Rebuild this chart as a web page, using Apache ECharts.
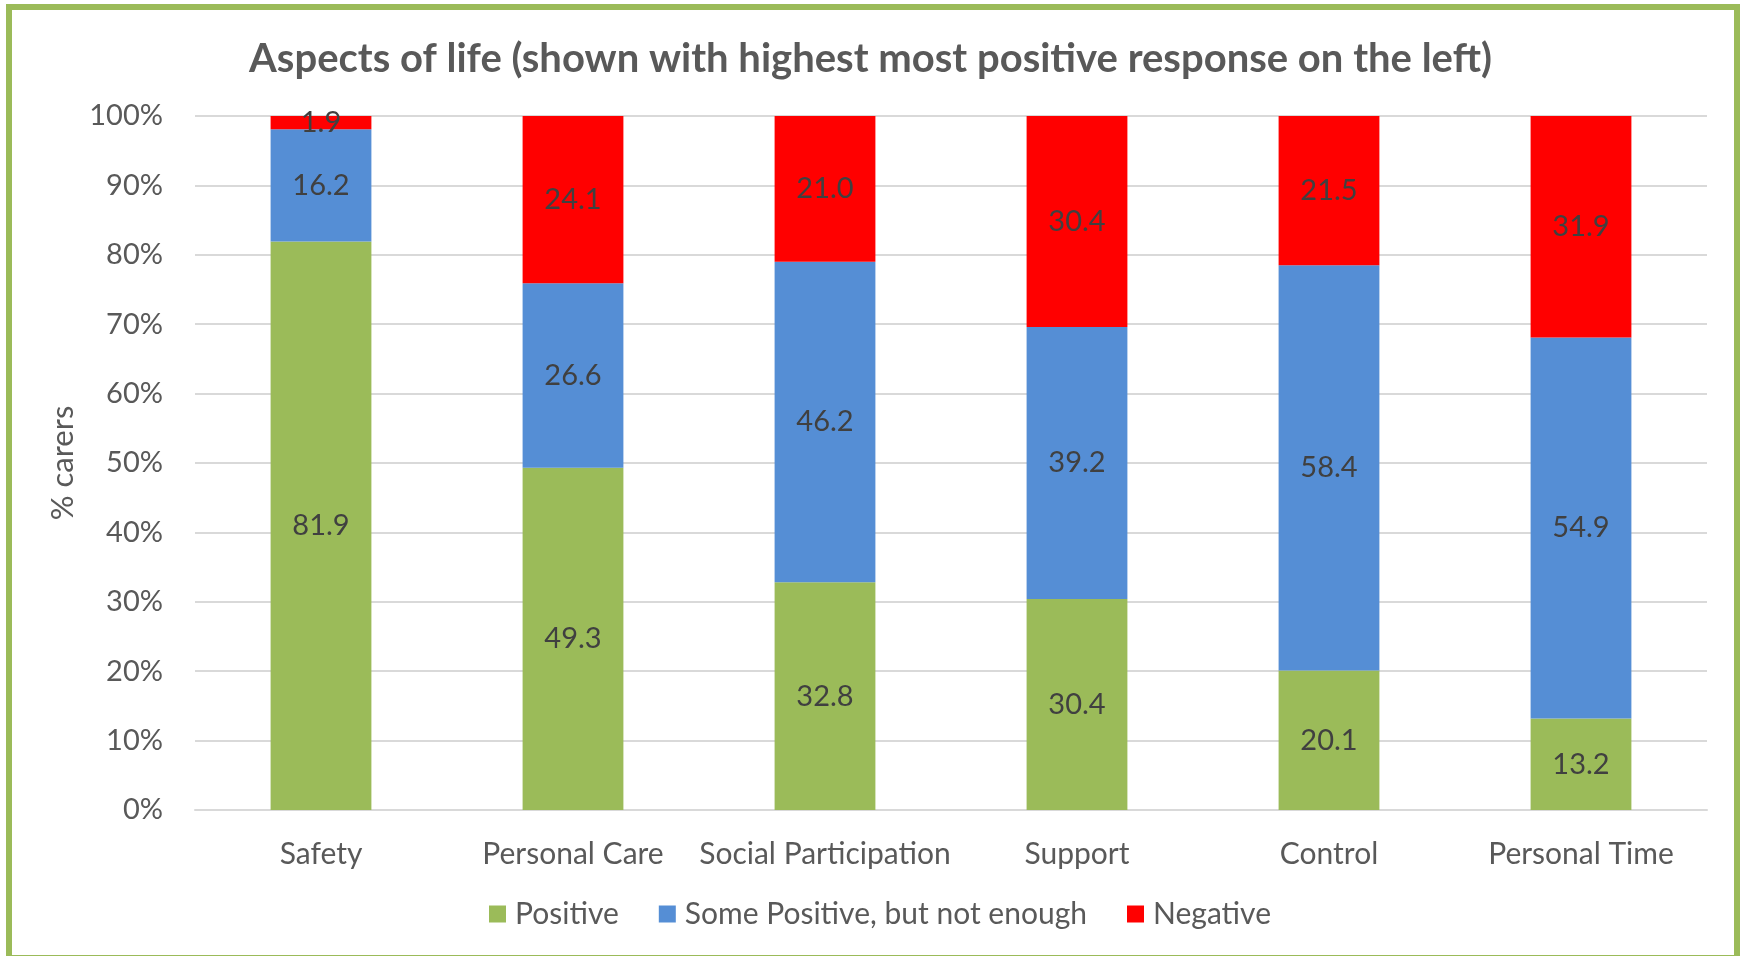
<!DOCTYPE html>
<html>
<head>
<meta charset="utf-8">
<title>Aspects of life</title>
<script src="https://cdn.jsdelivr.net/npm/echarts@6/dist/echarts.min.js"></script>
<style>
  html, body { margin: 0; padding: 0; background: #ffffff; }
  #chart { width: 1741px; height: 956px; }
</style>
</head>
<body>
<div id="chart"></div>
<script>
// Categories ordered by share of most positive response
const categories = ['Safety', 'Personal Care', 'Social Participation', 'Support', 'Control', 'Personal Time'];
const positive = [81.9, 49.3, 32.8, 30.4, 20.1, 13.2];
const somePositive = [16.2, 26.6, 46.2, 39.2, 58.4, 54.9];
const negative = [1.9, 24.1, 21.0, 30.4, 21.5, 31.9];
const seriesNames = ['Positive', 'Some Positive, but not enough', 'Negative'];
const yTicks = [0, 10, 20, 30, 40, 50, 60, 70, 80, 90, 100];

const FONT = 'Lato';
const TEXT = '#595959';
const SIZE = 29;

const chart = echarts.init(document.getElementById('chart'), null, { renderer: 'canvas' });

function barSeries(name, data, color) {
  return {
    name: name,
    type: 'bar',
    stack: 'total',
    barWidth: '40%',
    data: data,
    itemStyle: { color: color },
    label: {
      show: true,
      position: 'inside',
      formatter: p => p.value.toFixed(1),
      color: '#404040',
      fontFamily: FONT,
      fontSize: SIZE
    }
  };
}

chart.setOption({
  animation: false,
  backgroundColor: '#ffffff',
  title: {
    text: 'Aspects of life (shown with highest most positive response on the left)',
    left: 'center',
    top: 34,
    textStyle: { fontFamily: FONT, fontWeight: 'bold', fontSize: 40, color: TEXT }
  },
  legend: {
    bottom: 27,
    left: 489,
    padding: 0,
    icon: 'rect',
    itemWidth: 17,
    itemHeight: 17,
    itemGap: 40,
    textStyle: { fontFamily: FONT, fontSize: 30, color: TEXT, padding: [0, 0, 0, 4] },
    data: seriesNames
  },
  grid: { left: 195, right: 34, top: 116, bottom: 146 },
  xAxis: {
    type: 'category',
    data: categories,
    axisLine: { lineStyle: { color: '#d9d9d9', width: 2 } },
    axisTick: { show: false },
    axisLabel: { fontFamily: FONT, fontSize: 30, color: TEXT, margin: 29, interval: 0 }
  },
  yAxis: {
    type: 'value',
    min: yTicks[0],
    max: yTicks[yTicks.length - 1],
    interval: yTicks[1] - yTicks[0],
    name: '% carers',
    nameLocation: 'middle',
    nameGap: 113,
    nameTextStyle: { fontFamily: FONT, fontSize: 31, color: TEXT },
    axisLine: { show: false },
    axisTick: { show: false },
    splitLine: { lineStyle: { color: '#d9d9d9', width: 2 } },
    axisLabel: { fontFamily: FONT, fontSize: SIZE, color: TEXT, margin: 32, formatter: '{value}%' }
  },
  graphic: [{
    type: 'rect',
    silent: true,
    z: 100,
    shape: { x: 9, y: 7, width: 1728, height: 951 },
    style: { fill: 'none', stroke: '#9bbb59', lineWidth: 6 }
  }],
  series: [
    barSeries(seriesNames[0], positive, '#9bbb59'),
    barSeries(seriesNames[1], somePositive, '#558ed5'),
    barSeries(seriesNames[2], negative, '#ff0000')
  ]
});
</script>
</body>
</html>
